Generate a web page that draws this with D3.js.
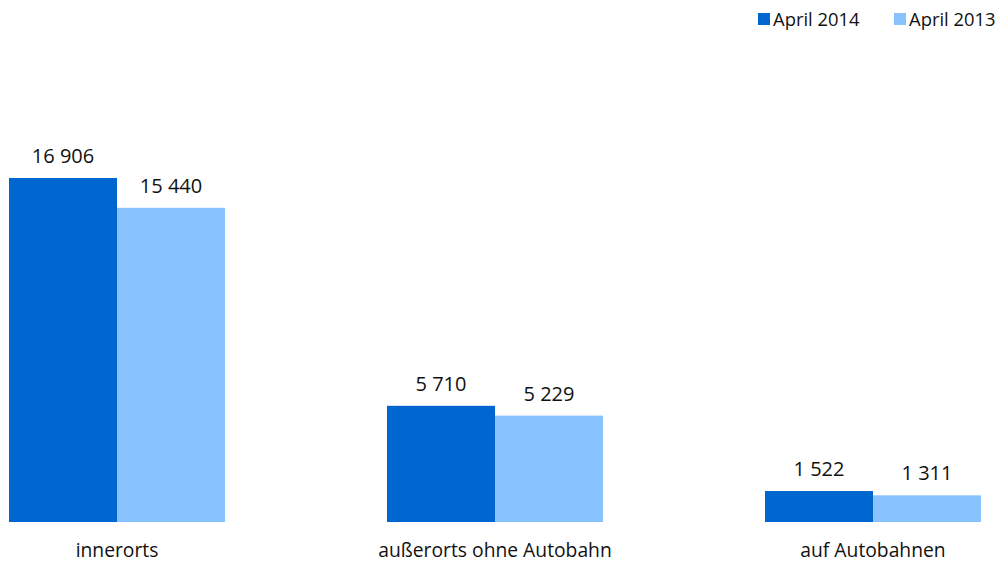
<!DOCTYPE html>
<html><head><meta charset="utf-8">
<script src="https://cdn.jsdelivr.net/npm/d3@7"></script>
<style>body{margin:0;background:#fff}svg{display:block}text{font-family:"Open Sans",sans-serif;fill:#111}</style>
</head><body><svg id="c" width="1000" height="563"></svg>
<script>
const categories = ["innerorts", "außerorts ohne Autobahn", "auf Autobahnen"];
const seriesNames = ["April 2014", "April 2013"];
const april2014 = [16906, 5710, 1522];
const april2013 = [15440, 5229, 1311];
const colors = ["#0066d0", "#88c2ff"];

const svg = d3.select("#c");
const baseY = 522;
const x0 = d3.scaleBand().domain(categories).range([9, 981]).paddingInner(0.42857).paddingOuter(0);
const x1 = d3.scaleBand().domain(seriesNames).range([0, x0.bandwidth()]).padding(0);
const y = d3.scaleLinear().domain([0, 16906]).range([baseY, 178]);
const fmt = v => d3.format(",")(v).replace(/,/g, " ");

const data = categories.map((c, i) => ({cat: c, vals: [april2014[i], april2013[i]]}));
const g = svg.selectAll("g.grp").data(data).join("g").attr("class","grp")
  .attr("transform", d => `translate(${x0(d.cat)},0)`);
g.selectAll("rect").data(d => d.vals.map((v, j) => ({v, s: seriesNames[j], j})))
  .join("rect")
  .attr("x", d => x1(d.s)).attr("width", x1.bandwidth())
  .attr("y", d => y(d.v)).attr("height", d => baseY - y(d.v))
  .attr("fill", d => colors[d.j]);
g.selectAll("text.val").data(d => d.vals.map((v, j) => ({v, s: seriesNames[j]})))
  .join("text").attr("class","val")
  .attr("x", d => x1(d.s) + x1.bandwidth()/2).attr("y", d => y(d.v) - 15)
  .attr("text-anchor","middle").attr("font-size", 20).text(d => fmt(d.v));

const axis = d3.axisBottom(x0).tickSize(0).tickPadding(0);
const ax = svg.append("g").attr("transform", `translate(0,${baseY})`).call(axis);
ax.select(".domain").remove();
ax.selectAll("text").attr("dy", null).attr("y", 35).attr("font-size", 19.3).style("fill","#111")
  .attr("font-family", '"Open Sans",sans-serif');

const leg = [{n: seriesNames[0], x: 758}, {n: seriesNames[1], x: 894}];
const lg = svg.selectAll("g.leg").data(leg).join("g").attr("class","leg");
lg.append("rect").attr("x", d => d.x).attr("y", 13).attr("width", 12).attr("height", 12)
  .attr("fill", (d, i) => colors[i]);
lg.append("text").attr("x", d => d.x + 15).attr("y", 26).attr("font-size", 18.4).text(d => d.n);
</script></body></html>
